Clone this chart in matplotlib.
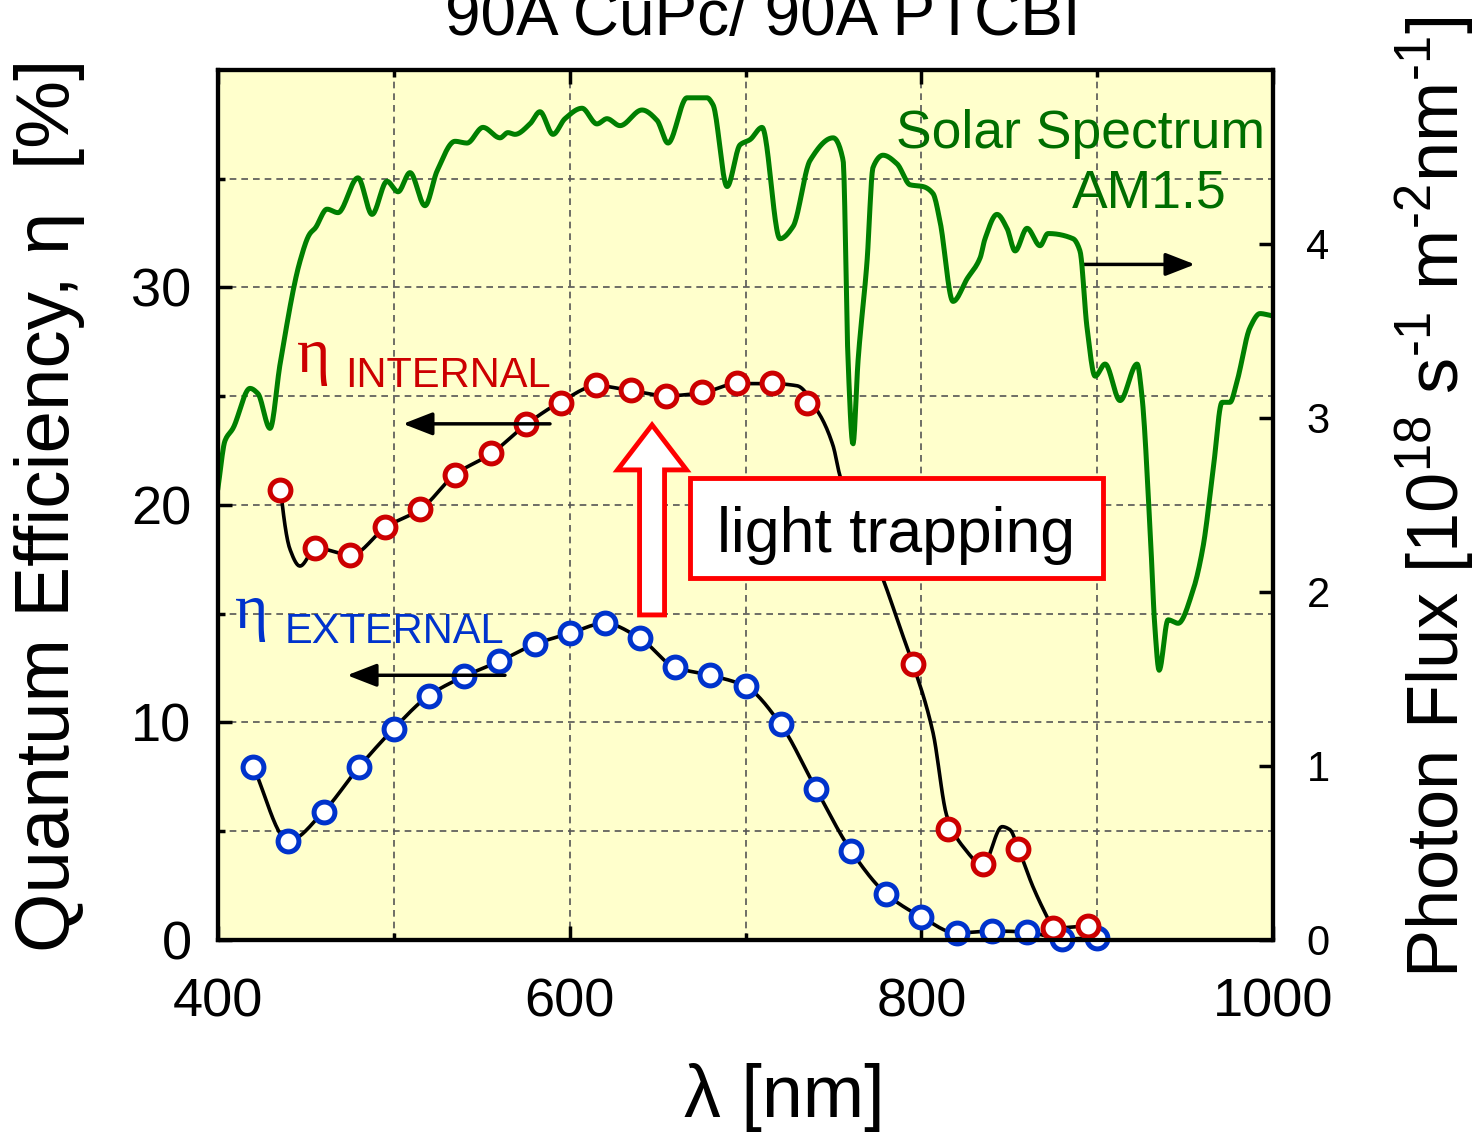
import numpy as np
import matplotlib
matplotlib.use('Agg')
import matplotlib.pyplot as plt
from matplotlib.patches import Rectangle, FancyArrow

plt.rcParams['font.family'] = ['Liberation Sans', 'DejaVu Sans']
plt.rcParams['mathtext.default'] = 'regular'

# --- dados ---
# eficiência quântica externa (marcadores azuis), a cada 20 nm
ext_nm = np.arange(420, 901, 20)
ext_qe = [7.97, 4.56, 5.90, 7.93, 9.72, 11.24, 12.12, 12.81, 13.59, 14.10,
          14.56, 13.87, 12.53, 12.17, 11.66, 9.91, 6.96, 4.10, 2.12, 1.06,
          0.32, 0.41, 0.37, 0.05, 0.09]

# eficiência quântica interna (marcadores vermelhos)
int_nm = [435, 455, 475, 495, 515, 535, 555, 575, 595, 615, 635, 655, 675,
          695, 715, 735, 795, 815, 835, 855, 875, 895]
int_qe = [20.7, 18.0, 17.7, 19.0, 19.8, 21.4, 22.4, 23.7, 24.7, 25.5, 25.3,
          25.0, 25.2, 25.6, 25.6, 24.7, 12.7, 5.1, 3.5, 4.2, 0.55, 0.65]

# curva de ajuste (linha preta) da eficiência interna
int_fit_nm = [435.8, 436.4, 440.9, 446.6, 455.7, 475.6, 495.5, 515.4, 535.3,
              555.2, 575.1, 595.1, 615.5, 635.4, 655.3, 675.3, 695.2, 715.1,
              729.3, 741.2, 749.8, 753.7, 778.2, 789.6, 795.3, 806.6, 814.6,
              823.7, 835.1, 845.9, 850.4, 855.0, 863.5, 871.5, 874.9, 894.8]
int_fit_qe = [20.74, 20.14, 17.97, 17.19, 18.02, 17.70, 18.99, 19.82, 21.43,
              22.35, 23.69, 24.75, 25.48, 25.25, 25.02, 25.16, 25.58, 25.58,
              25.48, 24.29, 22.72, 21.34, 16.59, 13.96, 12.67, 9.54, 5.67,
              4.29, 3.46, 5.21, 5.07, 4.24, 2.44, 1.06, 0.55, 0.65]

# espectro solar AM1.5 (eixo direito, 1e18 fótons/s/m2/nm)
sol_nm = [400.0, 404.0, 408.5, 418.2, 422.7, 429.6, 435.3, 446.6, 452.3, 455.2,
          462.0, 468.2, 479.6, 487.6, 496.1, 502.4, 509.2, 517.7, 524.6, 534.8,
          541.6, 550.7, 560.4, 564.9, 568.9, 577.4, 583.1, 590.5, 597.3, 607.0,
          615.5, 621.2, 628.6, 641.1, 649.7, 655.9, 666.7, 678.1, 681.5, 689.5,
          696.9, 702.6, 709.4, 719.6, 727.0, 736.7, 749.8, 755.5, 758.3, 761.1,
          764.0, 769.1, 772.5, 778.2, 786.2, 793.6, 800.9, 806.6, 810.6, 818.0,
          826.0, 833.4, 836.2, 843.0, 848.7, 853.3, 860.1, 867.5, 872.0, 886.3,
          890.2, 894.2, 898.8, 904.5, 913.0, 922.7, 925.5, 930.1, 932.9, 935.2,
          940.3, 946.0, 954.5, 960.2, 965.9, 971.0, 975.5, 979.5, 986.9, 992.6,
          998.3]
sol_flux = [2.60, 2.87, 2.94, 3.17, 3.14, 2.94, 3.31, 3.90, 4.06, 4.09,
            4.20, 4.18, 4.38, 4.17, 4.36, 4.30, 4.41, 4.22, 4.42, 4.59,
            4.58, 4.67, 4.61, 4.64, 4.63, 4.69, 4.76, 4.63, 4.72, 4.78,
            4.69, 4.72, 4.68, 4.77, 4.71, 4.58, 4.84, 4.84, 4.80, 4.33,
            4.57, 4.60, 4.67, 4.03, 4.10, 4.48, 4.61, 4.48, 3.33, 2.85,
            3.33, 3.90, 4.44, 4.51, 4.46, 4.34, 4.33, 4.29, 4.13, 3.67,
            3.80, 3.92, 4.03, 4.17, 4.09, 3.96, 4.09, 3.99, 4.06, 4.03,
            3.96, 3.52, 3.24, 3.31, 3.10, 3.31, 3.12, 2.35, 1.78, 1.55,
            1.84, 1.82, 2.01, 2.26, 2.70, 3.09, 3.09, 3.21, 3.52, 3.60,
            3.59]


def pchip(x, y, xn):
    # interpolação cúbica monotônica (sem scipy)
    x = np.asarray(x, float)
    y = np.asarray(y, float)
    h = np.diff(x)
    d = np.diff(y) / h
    m = np.zeros_like(y)
    m[0], m[-1] = d[0], d[-1]
    for k in range(1, len(x) - 1):
        if d[k - 1] * d[k] > 0:
            w1 = 2 * h[k] + h[k - 1]
            w2 = h[k] + 2 * h[k - 1]
            m[k] = (w1 + w2) / (w1 / d[k - 1] + w2 / d[k])
    i = np.clip(np.searchsorted(x, xn) - 1, 0, len(x) - 2)
    t = (xn - x[i]) / h[i]
    h00 = 2 * t**3 - 3 * t**2 + 1
    h10 = t**3 - 2 * t**2 + t
    h01 = -2 * t**3 + 3 * t**2
    h11 = t**3 - t**2
    return h00 * y[i] + h10 * h[i] * m[i] + h01 * y[i + 1] + h11 * h[i] * m[i + 1]


fig = plt.figure(figsize=(14.76, 11.34), dpi=100)
ax = fig.add_axes([0.1477, 0.1711, 0.7148, 0.7672])
ax.set_facecolor('#FFFFCC')
ax2 = ax.twinx()

verde = '#007F00'
vermelho = '#CC0000'
azul = '#0033CC'

# grade tracejada
for xv in [500, 600, 700, 800, 900]:
    ax.axvline(xv, color='#555555', lw=1.2, ls=(0, (4, 3)), zorder=0.5)
for yv in [5, 10, 15, 20, 25, 30, 35]:
    ax.axhline(yv, color='#555555', lw=1.2, ls=(0, (4, 3)), zorder=0.5)

# linhas de ajuste
xs = np.linspace(ext_nm[0], ext_nm[-1], 600)
ax.plot(xs, pchip(ext_nm, ext_qe, xs), color='black', lw=2.6, zorder=2)
xs = np.linspace(int_fit_nm[0], int_fit_nm[-1], 600)
ax.plot(xs, pchip(int_fit_nm, int_fit_qe, xs), color='black', lw=2.6, zorder=2)

# marcadores
ax.plot(ext_nm, ext_qe, 'o', ms=15, mfc='white', mec=azul, mew=3.6, zorder=3,
        clip_on=False)
ax.plot(int_nm, int_qe, 'o', ms=15, mfc='white', mec=vermelho, mew=3.6, zorder=3,
        clip_on=False)

# espectro solar
xs = np.linspace(sol_nm[0], sol_nm[-1], 1500)
ax2.plot(xs, pchip(sol_nm, sol_flux, xs), color=verde, lw=3.6)

ax.set_xlim(400, 1000)
ax.set_ylim(0, 40)
ax2.set_ylim(0, 5)

ax.set_xticks([400, 600, 800, 1000])
ax.set_xticks([500, 700, 900], minor=True)
ax.set_yticks([0, 10, 20, 30])
ax.set_yticks([5, 15, 25, 35], minor=True)
ax2.set_yticks([0, 1, 2, 3, 4])

ax.tick_params(axis='both', which='major', direction='in', length=10, width=2.5,
               labelsize=39, top=True)
ax.tick_params(axis='both', which='minor', direction='in', length=5, width=2.5,
               top=True)
ax.tick_params(axis='x', pad=27)
ax.tick_params(axis='y', pad=19)
ax2.tick_params(axis='y', direction='in', length=10, width=2.5, labelsize=30, pad=24)

for a in (ax, ax2):
    for s in a.spines.values():
        s.set_linewidth(3)

# rótulos dos eixos
fig.text(50 / 1476, 1 - 505 / 1134, 'Quantum Efficiency, η  [%]', rotation=90,
         ha='center', va='center', fontsize=55)
fig.text(784 / 1476, 1 - 1098 / 1134, 'λ [nm]', ha='center', va='center', fontsize=53)
fig.text(1435 / 1476, 1 - 497 / 1134,
         'Photon Flux [10$^{18}$ s$^{\u2010 1}$ m$^{\u2010 2}$nm$^{\u2010 1}$]',
         rotation=90, ha='center', va='center', fontsize=52)
fig.text(763 / 1476, 1 - 35 / 1134, '90A CuPc/ 90A PTCBI', ha='center',
         va='baseline', fontsize=46)

# anotações
t = ax2.transAxes
ax2.text(0.9924, 0.9103, 'Solar Spectrum', color='#006E00', fontsize=38.5,
         ha='right', va='baseline', transform=t)
ax2.text(0.9564, 0.8414, 'AM1.5', color='#006E00', fontsize=38.5,
         ha='right', va='baseline', transform=t)
ax2.text(0.0749, 0.6529, 'η', color=vermelho, fontsize=46,
         family=['Liberation Serif', 'DejaVu Serif'], ha='left', va='baseline',
         transform=t)
ax2.text(0.1204, 0.6356, 'INTERNAL', color=vermelho, fontsize=30, ha='left',
         va='baseline', transform=t)
ax2.text(0.0161, 0.3586, 'η', color=azul, fontsize=46,
         family=['Liberation Serif', 'DejaVu Serif'], ha='left', va='baseline',
         transform=t)
ax2.text(0.0635, 0.3414, 'EXTERNAL', color=azul, fontsize=30, ha='left',
         va='baseline', transform=t)

seta = dict(arrowstyle='-|>,head_length=0.9,head_width=0.35', color='black',
            lw=2.5, shrinkA=0, shrinkB=0, mutation_scale=20)
ax.annotate('', xy=(955.6, 31.06), xytext=(891.9, 31.06), arrowprops=seta)
ax.annotate('', xy=(505.2, 23.73), xytext=(588.8, 23.73), arrowprops=seta)
ax.annotate('', xy=(473.4, 12.17), xytext=(563.2, 12.17), arrowprops=seta)

# seta vazada "light trapping"
ax2.add_patch(FancyArrow(0.4114, 0.3736, 0, 0.592 - 0.3736, width=0.0237,
                         head_width=0.0654, head_length=0.0517,
                         length_includes_head=True, transform=t,
                         fc='white', ec='#FF0000', lw=3.5, zorder=5))
ax2.add_patch(Rectangle((0.4474, 0.4161), 0.3915, 0.1149, transform=t,
                        fc='white', ec='#FF0000', lw=3.5, zorder=5))
ax2.text(0.4474 + 0.3915 / 2, 0.4161 + 0.1149 / 2 - 0.009, 'light trapping',
         fontsize=45, ha='center', va='center', transform=t, zorder=6)

fig.savefig('out.png', dpi=100)
